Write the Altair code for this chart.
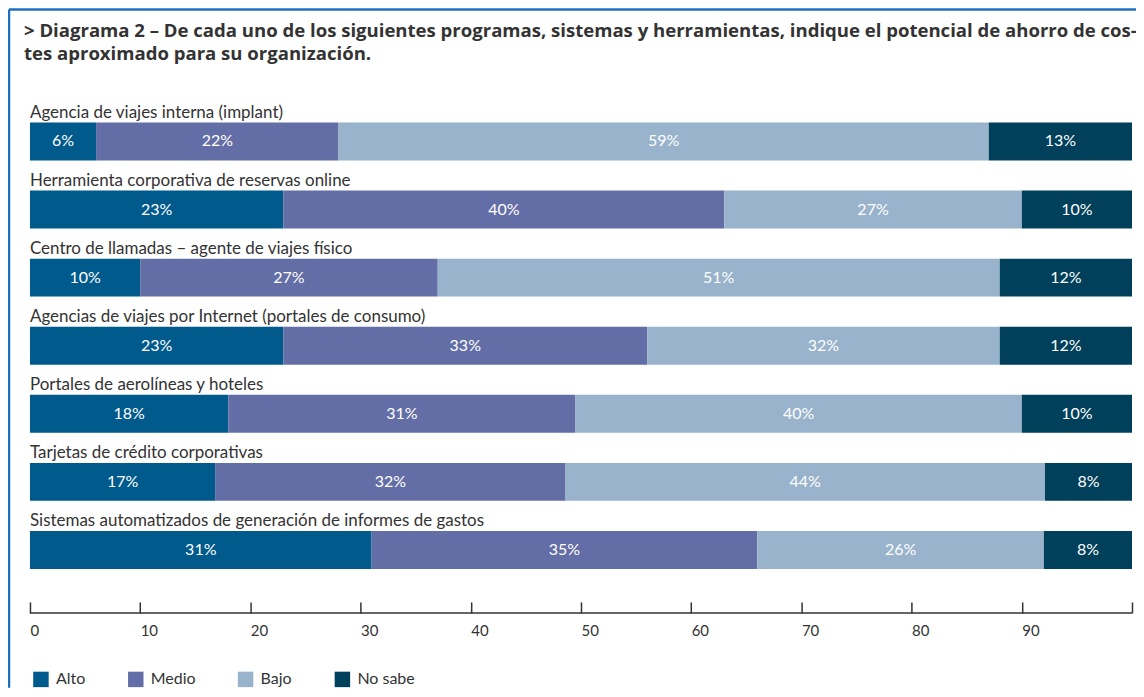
import altair as alt
import pandas as pd

categories = [
    "Agencia de viajes interna (implant)",
    "Herramienta corporativa de reservas online",
    "Centro de llamadas – agente de viajes físico",
    "Agencias de viajes por Internet (portales de consumo)",
    "Portales de aerolíneas y hoteles",
    "Tarjetas de crédito corporativas",
    "Sistemas automatizados de generación de informes de gastos",
]
levels = ["Alto", "Medio", "Bajo", "No sabe"]
alto = [6, 23, 10, 23, 18, 16.8, 31]
medio = [22, 40, 27, 33, 31.5, 31.8, 35]
bajo = [59, 27, 51, 32, 40.5, 43.5, 26]
no_sabe = [13, 10, 12, 12, 10, 7.9, 8]
alto_lbl = ["6%", "23%", "10%", "23%", "18%", "17%", "31%"]
medio_lbl = ["22%", "40%", "27%", "33%", "31%", "32%", "35%"]
bajo_lbl = ["59%", "27%", "51%", "32%", "40%", "44%", "26%"]
no_sabe_lbl = ["13%", "10%", "12%", "12%", "10%", "8%", "8%"]
colors = ["#005a8c", "#646ea6", "#98b3cb", "#00405a"]
ticks = list(range(0, 101, 10))

title_lines = [
    "> Diagrama 2 – De cada uno de los siguientes programas, sistemas y herramientas, indique el potencial de ahorro de cos-",
    "tes aproximado para su organización.",
]

rows = []
series = [alto, medio, bajo, no_sabe]
labels = [alto_lbl, medio_lbl, bajo_lbl, no_sabe_lbl]
for i, cat in enumerate(categories):
    start = 0.0
    for j, lev in enumerate(levels):
        v = series[j][i]
        rows.append({"cat": cat, "level": lev, "start": start, "end": start + v,
                     "mid": start + v / 2, "lbl": labels[j][i]})
        start += v
df = pd.DataFrame(rows)
df_cat = pd.DataFrame({"cat": categories})

STEP = 68.2
H = STEP * len(categories)
W = 1104
PAD_TOP = 99
PAD_BOTTOM = 104
FONT = "Lato"
TXT = "#333333"

yenc = alt.Y("cat:N", sort=categories, axis=None,
             scale=alt.Scale(paddingInner=0, paddingOuter=0))

bars = alt.Chart(df).mark_bar(size=38).encode(
    x=alt.X("start:Q", scale=alt.Scale(domain=[0, 100], nice=False),
            axis=alt.Axis(values=ticks, orient="bottom", offset=18, domain=False,
                          tickSize=11, tickWidth=1.5, tickColor=TXT, grid=False,
                          labelAlign="left", labelPadding=11, labelFont=FONT,
                          labelFontSize=15, labelColor=TXT, labelFlush=False,
                          labelOverlap=False,
                          labelExpr="datum.value == 100 ? '' : datum.label",
                          title=None)),
    x2="end:Q",
    y=yenc,
    color=alt.Color("level:N", scale=alt.Scale(domain=levels, range=colors),
                    legend=alt.Legend(orient="none", legendX=3, legendY=565,
                                      direction="horizontal", title=None,
                                      symbolType="square", symbolSize=240,
                                      symbolStrokeWidth=0, labelFont=FONT,
                                      labelFontSize=16, labelColor=TXT,
                                      columnPadding=42, labelOffset=7)),
)

seg_text = alt.Chart(df).mark_text(color="white", font=FONT, fontSize=16,
                                   baseline="middle").encode(
    x="mid:Q", y=yenc, text="lbl:N")

cat_text = alt.Chart(df_cat).mark_text(align="left", baseline="alphabetic", dy=-24,
                                       font=FONT, fontSize=17, color=TXT).encode(
    x=alt.value(0), y=yenc, text="cat:N")

axis_line = alt.Chart(pd.DataFrame({"a": [0], "b": [100]})).mark_rule(
    color=TXT, strokeWidth=1.5).encode(x="a:Q", x2="b:Q", y=alt.value(H + 29))

one = pd.DataFrame({"k": [0]})
frame_left = alt.Chart(one).mark_rule(color="#1f6fc0", strokeWidth=2.5).encode(
    x=alt.value(-21), y=alt.value(-98), y2=alt.value(H + PAD_BOTTOM))
frame_top = alt.Chart(one).mark_rule(color="#1f6fc0", strokeWidth=2.5).encode(
    x=alt.value(-21), x2=alt.value(W + 4), y=alt.value(-98))

chart = alt.layer(frame_left, frame_top, bars, seg_text, cat_text, axis_line).properties(
    width=W, height=H,
    autosize=alt.AutoSizeParams(type="none"),
    padding={"left": 22, "top": PAD_TOP, "right": 4, "bottom": PAD_BOTTOM},
    background="white",
    title=alt.TitleParams(text=title_lines, anchor="start", frame="group",
                          font="Open Sans", fontSize=18.6, fontWeight="bold",
                          color=TXT, lineHeight=23, offset=-55, dx=-6),
).configure_view(stroke=None)

chart.save("out.html", embed_options={"renderer": "svg", "actions": False})
